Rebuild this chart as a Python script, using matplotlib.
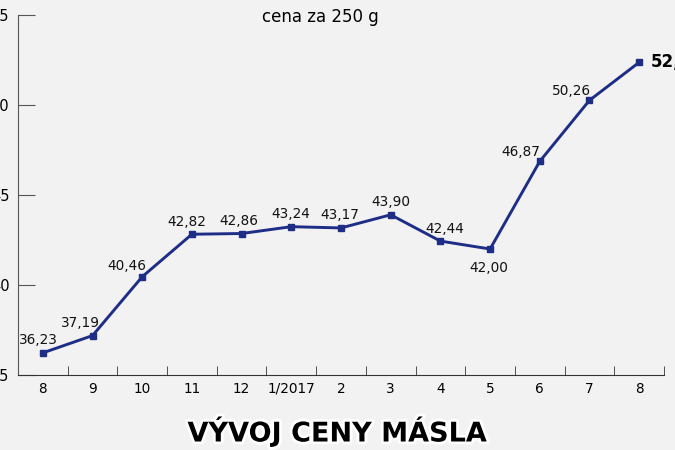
import matplotlib
matplotlib.use("Agg")
import matplotlib.pyplot as plt
import matplotlib.patheffects as pe
import numpy as np

# monthly butter prices (CZK per 250 g)
months = ["8", "9", "10", "11", "12", "1/2017", "2", "3", "4", "5", "6", "7", "8"]
prices = [36.23, 37.19, 40.46, 42.82, 42.86, 43.24, 43.17, 43.90, 42.44, 42.00, 46.87, 50.26, 52.37]
y_ticks = [35, 40, 45, 50, 55]

# label offsets in points (dx, dy) for each value
label_offsets = [(-3, 9), (-9, 9), (-11, 8), (-4, 9), (-2, 9), (0, 9), (-1, 9),
                 (0, 9), (3, 9), (-1, -14), (-14, 7), (-13, 7), (0, 0)]

line_color = "#1e2d86"
bg_color = "#f2f2f2"

fig = plt.figure(figsize=(6.75, 4.5), dpi=100, facecolor=bg_color)
ax = fig.add_axes([18 / 675, 75 / 450, 646 / 675, 360 / 450])
ax.set_facecolor(bg_color)

x = np.arange(len(months))
ax.plot(x, prices, color=line_color, lw=2.1, marker="s", ms=4.5, zorder=3)

for i, (xi, val) in enumerate(zip(x, prices)):
    txt = f"{val:.2f}".replace(".", ",")
    dx, dy = label_offsets[i]
    if i == len(prices) - 1:
        # last value sits right of the point, bold (cut off at the edge like the original)
        ax.annotate(txt, (xi, val), xytext=(8, 0), textcoords="offset points",
                    ha="left", va="center", fontsize=12, fontweight="bold",
                    color="black", annotation_clip=False)
    else:
        ax.annotate(txt, (xi, val), xytext=(dx, dy), textcoords="offset points",
                    ha="center", va="center", fontsize=9.8, color="#111111")

ax.set_xlim(-0.5, len(months) - 0.5)
ax.set_ylim(35, 55)
ax.set_yticks(y_ticks)
ax.set_yticklabels([str(t) for t in y_ticks], fontsize=10.5)
ax.set_xticks(x)
ax.set_xticklabels(months, fontsize=9.8)
ax.set_xticks(np.arange(len(months) + 1) - 0.5, minor=True)

ax.tick_params(axis="x", which="major", length=0, pad=5)
ax.tick_params(axis="x", which="minor", direction="in", length=6.5, color="#333333")
ax.tick_params(axis="y", direction="in", length=12, color="#555555", pad=6)

for side in ["top", "right"]:
    ax.spines[side].set_visible(False)
ax.spines["left"].set_color("#555555")
ax.spines["bottom"].set_color("#333333")

fig.text(0.475, 0.962, "cena za 250 g", ha="center", va="center", fontsize=12)

fig.text(0.5, 0.04, "VÝVOJ CENY MÁSLA", ha="center", va="center",
         fontsize=19.5, fontweight="bold", color="black",
         path_effects=[pe.withStroke(linewidth=4, foreground="white")])

plt.savefig("out.png", dpi=100, facecolor=bg_color)
